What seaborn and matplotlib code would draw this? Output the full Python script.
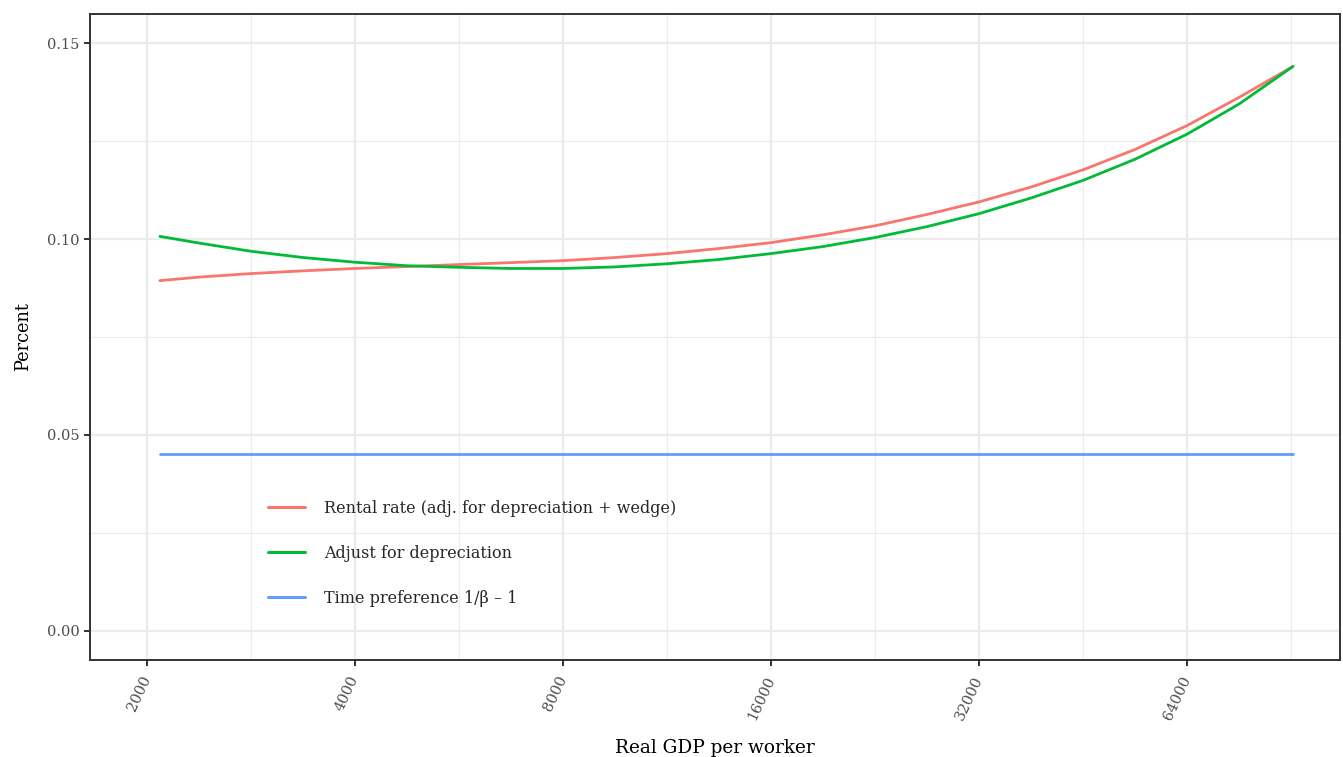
import numpy as np
import pandas as pd
import matplotlib
matplotlib.use("Agg")
import matplotlib.pyplot as plt
import matplotlib.ticker as mticker
import seaborn as sns

gdp = [2088, 2378, 2828, 3364, 4000, 4757, 5657, 6727, 8000, 9514, 11314, 13454,
       16000, 19027, 22627, 26909, 32000, 38055, 45255, 53817, 64000, 76109, 91100]
rental = [0.0894, 0.0903, 0.0912, 0.0919, 0.0925, 0.0930, 0.0935, 0.0940, 0.0945,
          0.0953, 0.0963, 0.0976, 0.0991, 0.1011, 0.1034, 0.1063, 0.1095, 0.1133,
          0.1177, 0.1229, 0.1290, 0.1362, 0.1441]
adjust = [0.1007, 0.0990, 0.0969, 0.0953, 0.0941, 0.0932, 0.0928, 0.0925, 0.0925,
          0.0929, 0.0937, 0.0948, 0.0963, 0.0981, 0.1004, 0.1032, 0.1065, 0.1105,
          0.1150, 0.1204, 0.1268, 0.1345, 0.1441]
time_pref = [0.045] * len(gdp)

labels = ["Rental rate (adj. for depreciation + wedge)",
          "Adjust for depreciation",
          "Time preference 1/\u03b2 \u2013 1"]
colors = ["#F8766D", "#00BA38", "#619CFF"]
xticks = [2000, 4000, 8000, 16000, 32000, 64000]
yticks = [0.00, 0.05, 0.10, 0.15]

df = pd.concat([
    pd.DataFrame({"gdp": gdp, "value": rental, "series": labels[0]}),
    pd.DataFrame({"gdp": gdp, "value": adjust, "series": labels[1]}),
    pd.DataFrame({"gdp": gdp, "value": time_pref, "series": labels[2]}),
])

sns.set_theme(style="white")
plt.rcParams["font.family"] = ["DejaVu Serif", "DejaVu Sans"]

fig = plt.figure(figsize=(13.43, 7.57), dpi=100)
ax = fig.add_axes([90/1343, 1-660/757, 1250/1343, 646/757])

sns.lineplot(data=df, x="gdp", y="value", hue="series", hue_order=labels,
             palette=colors, ax=ax, linewidth=2.0, sort=True, estimator=None)

ax.set_xscale("log", base=2)
ax.set_xlim(2000 * 2 ** ((90 - 147) / 208), 2000 * 2 ** ((1340 - 147) / 208))
ax.set_ylim(-0.0075, 0.1575)

ax.xaxis.set_major_locator(mticker.FixedLocator(xticks))
ax.xaxis.set_minor_locator(mticker.FixedLocator([t * np.sqrt(2) for t in xticks]))
ax.xaxis.set_major_formatter(mticker.FixedFormatter([str(t) for t in xticks]))
ax.xaxis.set_minor_formatter(mticker.NullFormatter())
ax.yaxis.set_major_locator(mticker.FixedLocator(yticks))
ax.yaxis.set_minor_locator(mticker.FixedLocator([0.025, 0.075, 0.125]))
ax.yaxis.set_major_formatter(mticker.FormatStrFormatter("%.2f"))

ax.grid(True, which="major", color="#EBEBEB", linewidth=1.6)
ax.grid(True, which="minor", color="#EBEBEB", linewidth=0.8)
ax.set_axisbelow(True)

for s in ax.spines.values():
    s.set_visible(True)
    s.set_color("#333333")
    s.set_linewidth(1.4)

ax.tick_params(axis="both", which="major", length=4, width=1.4, color="#333333",
               labelcolor="#4D4D4D", labelsize=10.5, bottom=True, left=True)
ax.tick_params(axis="x", which="major", pad=8)
ax.tick_params(axis="both", which="minor", length=0)
for lab in ax.get_xticklabels():
    lab.set_rotation(65)
    lab.set_ha("right")
    lab.set_va("center")
    lab.set_rotation_mode("anchor")

ax.set_xlabel("Real GDP per worker", fontsize=13.3, color="black", labelpad=12)
ax.set_ylabel("Percent", fontsize=12.8, color="black", labelpad=11)

leg = ax.legend(loc="upper left", bbox_to_anchor=((268-90)/1250, (660-500)/646),
                frameon=False, fontsize=11.5, handlelength=2.3, handletextpad=1.2,
                labelspacing=1.75, borderpad=0, borderaxespad=0)
for h in leg.get_lines():
    h.set_linewidth(2.2)

fig.savefig("out.png", dpi=100)
